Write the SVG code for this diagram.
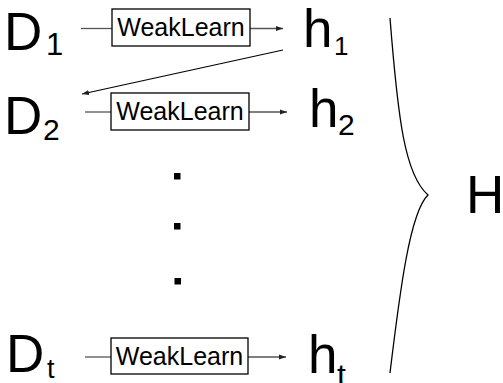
<svg xmlns="http://www.w3.org/2000/svg" width="503" height="383" viewBox="0 0 503 383">
  <style>
    .big { font-family: "Liberation Sans", Arial, sans-serif; font-size: 53px; fill: #000; }
    .sub { font-family: "Liberation Sans", Arial, sans-serif; fill: #000; }
    .box { fill: #fff; stroke: #000; stroke-width: 1.3; }
    .lbl { font-family: "Liberation Sans", Arial, sans-serif; font-size: 25px; fill: #000; text-anchor: middle; }
    .flow { stroke: #555; stroke-width: 1.3; fill: none; }
    .back { stroke: #000; stroke-width: 1.2; fill: none; }
  </style>
  <defs>
    <marker id="arrow" markerWidth="8" markerHeight="6" refX="7" refY="3" orient="auto" markerUnits="userSpaceOnUse">
      <path d="M0,0.5 L7,3 L0,5.5 z" fill="#222"/>
    </marker>
  </defs>

  <rect width="503" height="383" fill="#fff"/>

  <!-- connectors -->
  <g id="connectors">
    <line class="flow" x1="81" y1="28.5" x2="112" y2="28.5"/>
    <line class="flow" x1="250" y1="28.5" x2="283" y2="28.5" marker-end="url(#arrow)"/>
    <line class="flow" x1="85" y1="112" x2="111" y2="112"/>
    <line class="flow" x1="249" y1="112" x2="287" y2="112" marker-end="url(#arrow)"/>
    <line class="flow" x1="85" y1="357" x2="111" y2="357"/>
    <line class="flow" x1="248" y1="357" x2="286" y2="357" marker-end="url(#arrow)"/>
    <line class="back" x1="283" y1="50" x2="82" y2="94" marker-end="url(#arrow)"/>
  </g>

  <!-- distributions -->
  <g id="D1"><text class="big" x="4" y="50">D</text><text class="sub" x="46" y="55" font-size="31">1</text></g>
  <g id="D2"><text class="big" x="4" y="134">D</text><text class="sub" x="43" y="140" font-size="30">2</text></g>
  <g id="Dt"><text class="big" x="6" y="372">D</text><text class="sub" x="47" y="378" font-size="27">t</text></g>

  <!-- weak learners -->
  <g id="learn1"><rect class="box" x="112" y="9" width="138" height="37"/><text class="lbl" x="181" y="36">WeakLearn</text></g>
  <g id="learn2"><rect class="box" x="111" y="93" width="138" height="37"/><text class="lbl" x="180" y="120">WeakLearn</text></g>
  <g id="learnt"><rect class="box" x="111" y="338" width="137" height="36"/><text class="lbl" x="179.5" y="365">WeakLearn</text></g>

  <!-- hypotheses -->
  <g id="h1"><text class="big" x="303" y="47">h</text><text class="sub" x="334" y="55" font-size="26">1</text></g>
  <g id="h2"><text class="big" x="309" y="127">h</text><text class="sub" x="338" y="135" font-size="30">2</text></g>
  <g id="ht"><text class="big" x="308" y="373">h</text><text class="sub" x="337" y="386" font-size="32">t</text></g>

  <!-- ellipsis -->
  <g id="dots" fill="#000">
    <rect x="174" y="173" width="6.5" height="6.5"/>
    <rect x="174" y="223" width="6.5" height="6.5"/>
    <rect x="174.5" y="278" width="6.5" height="6.5"/>
  </g>

  <!-- combined hypothesis -->
  <g id="H">
    <path d="M390,18 C398,120 405,175 428,195 C410,212 400,290 390,373" fill="none" stroke="#000" stroke-width="1.3"/>
    <text class="big" x="466" y="213">H</text>
  </g>
</svg>
